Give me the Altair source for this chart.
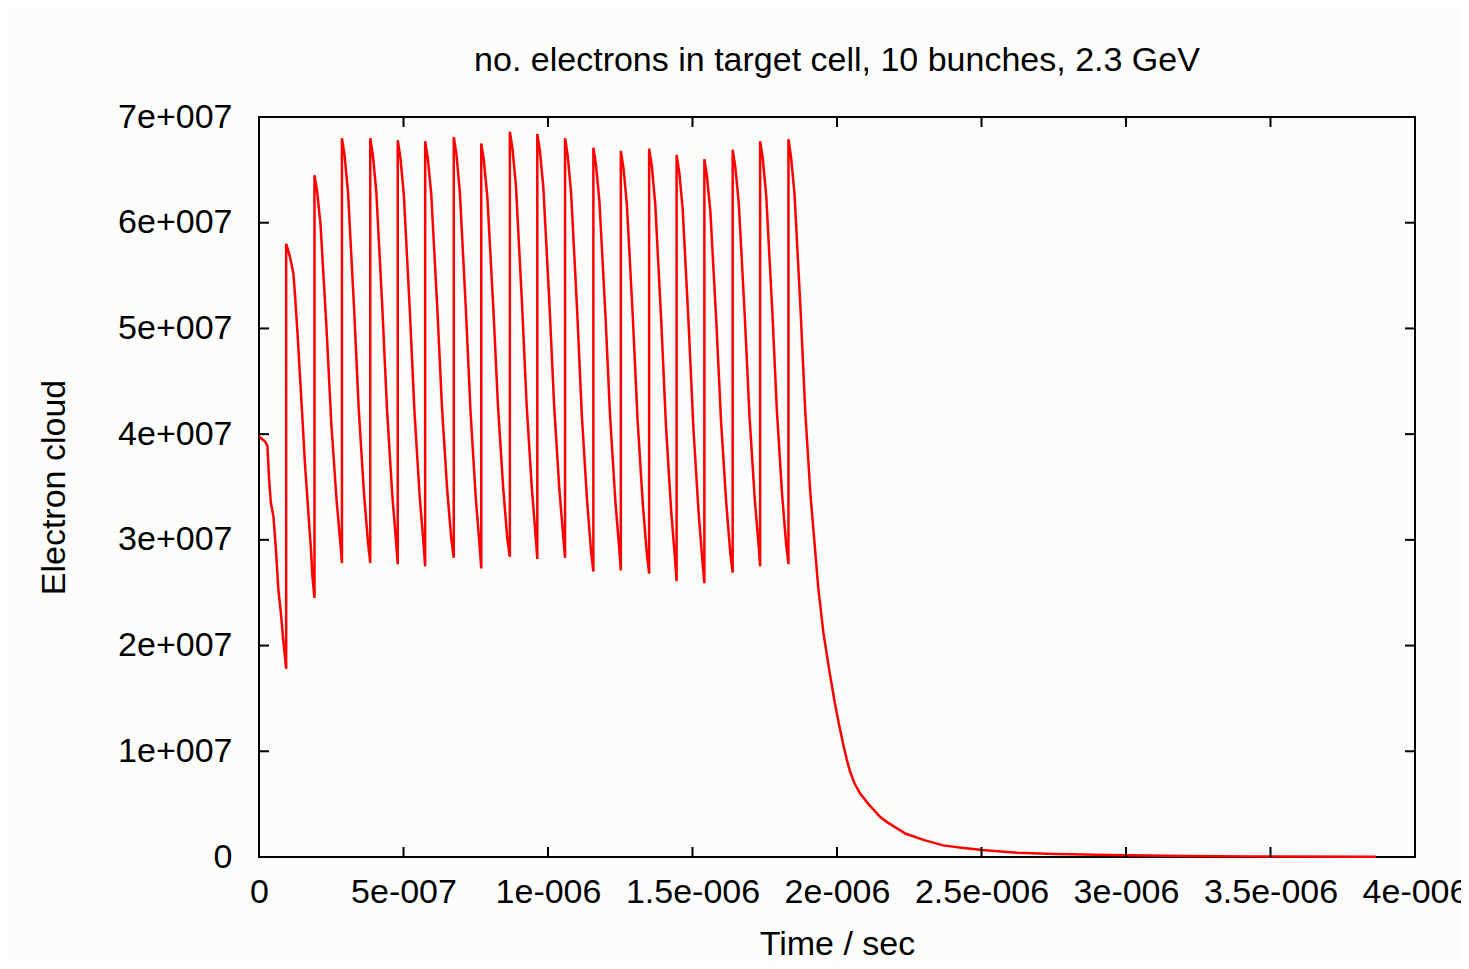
import altair as alt
import pandas as pd

# ---- data (time in ns, values in units of 1e7 electrons) ----
lead_ns = [0, 3, 21, 29, 35, 41, 50, 58, 67, 76, 84]
lead_e7 = [3.97, 3.97, 3.93, 3.89, 3.57, 3.35, 3.22, 2.93, 2.53, 2.30, 2.05]

spike_ns = [94, 192, 287, 385, 480, 575, 674, 769, 868, 963, 1059, 1157,
            1252, 1350, 1445, 1541, 1639, 1734, 1832]
peak_e7 = [5.80, 6.45, 6.80, 6.80, 6.78, 6.77, 6.81, 6.75, 6.86, 6.84, 6.80,
           6.71, 6.68, 6.70, 6.64, 6.60, 6.69, 6.77, 6.79]
trough_e7 = [1.78, 2.45, 2.78, 2.78, 2.77, 2.75, 2.83, 2.73, 2.84, 2.82, 2.83,
             2.70, 2.71, 2.68, 2.61, 2.59, 2.69, 2.75, 2.77]

first_decay_ns = [107, 119, 125, 134, 142, 150, 159, 171, 180, 185]
first_decay_e7 = [5.68, 5.52, 5.30, 4.92, 4.54, 4.16, 3.72, 3.25, 2.90, 2.65]

decay_offset_ns = [9, 21, 42, 58, 76, 90]
decay_e7 = [
    [6.30, 5.98, 4.98, 4.11, 3.39, 2.95],
    [6.64, 6.29, 5.19, 4.24, 3.45, 2.98],
    [6.64, 6.29, 5.18, 4.23, 3.43, 2.96],
    [6.62, 6.27, 5.16, 4.21, 3.41, 2.94],
    [6.61, 6.27, 5.19, 4.26, 3.48, 3.02],
    [6.65, 6.29, 5.17, 4.21, 3.40, 2.92],
    [6.59, 6.25, 5.18, 4.26, 3.49, 3.02],
    [6.70, 6.35, 5.24, 4.28, 3.49, 3.01],
    [6.68, 6.33, 5.23, 4.28, 3.49, 3.02],
    [6.64, 6.28, 5.16, 4.18, 3.38, 2.89],
    [6.55, 6.20, 5.11, 4.16, 3.37, 2.90],
    [6.52, 6.17, 5.08, 4.13, 3.34, 2.87],
    [6.54, 6.18, 5.06, 4.09, 3.28, 2.80],
    [6.48, 6.13, 5.02, 4.06, 3.26, 2.78],
    [6.44, 6.10, 5.03, 4.11, 3.34, 2.87],
    [6.53, 6.19, 5.11, 4.18, 3.40, 2.94],
    [6.61, 6.26, 5.17, 4.22, 3.43, 2.96],
]

tail_ns = [1841, 1853, 1874, 1890, 1908, 1922, 1935, 1953, 1976, 1993, 2008,
           2022, 2034, 2045, 2060, 2080, 2109, 2149, 2173, 2238, 2302, 2367,
           2431, 2502, 2623, 2753, 2945, 3203, 3429, 3865]
tail_e7 = [6.62, 6.27, 5.17, 4.22, 3.43, 2.98, 2.55, 2.12, 1.72, 1.45, 1.24,
           1.06, 0.92, 0.81, 0.70, 0.60, 0.50, 0.38, 0.33, 0.22, 0.16, 0.11,
           0.088, 0.066, 0.04, 0.028, 0.019, 0.009, 0.005, 0.002]

x_ticks = [0, 5e-7, 1e-6, 1.5e-6, 2e-6, 2.5e-6, 3e-6, 3.5e-6, 4e-6]
y_ticks = [0, 1e7, 2e7, 3e7, 4e7, 5e7, 6e7, 7e7]

title_text = "no. electrons in target cell, 10 bunches, 2.3 GeV"
x_title = "Time / sec"
y_title = "Electron cloud"

# ---- assemble the series in drawing order ----
rows = []


def add(t_ns, v_e7):
    rows.append({"t": t_ns * 1e-9, "v": v_e7 * 1e7, "i": len(rows)})


for t, v in zip(lead_ns, lead_e7):
    add(t, v)
for k, ts in enumerate(spike_ns):
    add(ts, trough_e7[k])
    add(ts, peak_e7[k])
    if k == 0:
        for t, v in zip(first_decay_ns, first_decay_e7):
            add(t, v)
    elif k < len(spike_ns) - 1:
        for off, v in zip(decay_offset_ns, decay_e7[k - 1]):
            add(ts + off, v)
    else:
        for t, v in zip(tail_ns, tail_e7):
            add(t, v)

df = pd.DataFrame(rows)
xt = pd.DataFrame({"t": x_ticks})
yt = pd.DataFrame({"v": y_ticks})

W, H = 1156, 740
FONT = "Liberation Sans"

xscale = alt.Scale(domain=[0, 4e-6], nice=False, zero=False)
yscale = alt.Scale(domain=[0, 7e7], nice=False, zero=False)

x_axis = alt.Axis(values=x_ticks, title=x_title,
                  labelExpr="datum.value == 0 ? '0' : replace(format(datum.value, '.1~e'), 'e-', 'e-00')",
                  labelPadding=18, labelOverlap=False, labelFlush=False,
                  labelBound=False,
                  titleY=97, titleBaseline="alphabetic")
y_axis = alt.Axis(values=y_ticks, title=y_title,
                  labelExpr="datum.value == 0 ? '0' : replace(format(datum.value, '.0e'), 'e+', 'e+00')",
                  labelPadding=27, labelOverlap=False, labelFlush=False,
                  titleX=-195, titleY=H / 2,
                  titleAngle=-90, titleAlign="center",
                  titleBaseline="alphabetic")

line = alt.Chart(df).mark_line(color="#ff0000", strokeWidth=2.5).encode(
    x=alt.X("t:Q", scale=xscale, axis=x_axis),
    y=alt.Y("v:Q", scale=yscale, axis=y_axis),
    order="i:Q",
)

tick_style = dict(color="black", strokeWidth=2)
bottom_ticks = alt.Chart(xt).mark_rule(**tick_style).encode(
    x=alt.X("t:Q", scale=xscale, axis=x_axis), y=alt.value(H), y2=alt.value(H - 10))
top_ticks = alt.Chart(xt).mark_rule(**tick_style).encode(
    x=alt.X("t:Q", scale=xscale, axis=x_axis), y=alt.value(0), y2=alt.value(10))
left_ticks = alt.Chart(yt).mark_rule(**tick_style).encode(
    y=alt.Y("v:Q", scale=yscale, axis=y_axis), x=alt.value(0), x2=alt.value(10))
right_ticks = alt.Chart(yt).mark_rule(**tick_style).encode(
    y=alt.Y("v:Q", scale=yscale, axis=y_axis), x=alt.value(W - 10), x2=alt.value(W))

chart = alt.layer(line, bottom_ticks, top_ticks, left_ticks, right_ticks).properties(
    width=W, height=H,
    autosize=alt.AutoSizeParams(type="none"),
    padding={"left": 251, "top": 109, "right": 46, "bottom": 104},
    background="#fcfdfb",
    title=alt.TitleParams(title_text, font=FONT, fontSize=34, fontWeight="normal",
                          color="black", anchor="middle", offset=14, dy=19,
                          baseline="alphabetic"),
).configure_view(
    stroke="black", strokeWidth=2, fill="#fcfdfb"
).configure_axis(
    domain=False, ticks=False, tickSize=0, grid=False,
    labelFont=FONT, labelFontSize=34, labelColor="black",
    titleFont=FONT, titleFontSize=34, titleFontWeight="normal", titleColor="black",
)

chart.save("out.html", embed_options={"renderer": "svg", "actions": False})
